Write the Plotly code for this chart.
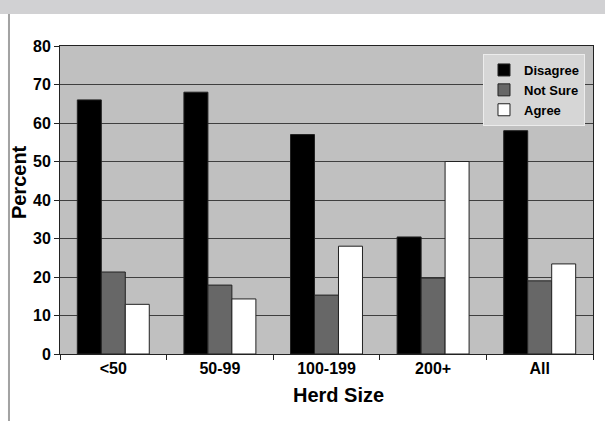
import plotly.graph_objects as go

# Survey responses by herd size (percent)
herd_sizes = ["<50", "50-99", "100-199", "200+", "All"]
disagree = [66, 68, 57, 30.4, 58]
not_sure = [21.3, 17.9, 15.3, 19.7, 19]
agree = [12.9, 14.3, 28, 50, 23.4]

series = [
    ("Disagree", disagree, "#000000"),
    ("Not Sure", not_sure, "#676767"),
    ("Agree", agree, "#ffffff"),
]

FONT = "Liberation Sans, Arial, Helvetica, sans-serif"

fig = go.Figure()
for name, vals, color in series:
    fig.add_trace(go.Bar(
        name=name, x=herd_sizes, y=vals,
        marker=dict(color=color, line=dict(color="#222222", width=1)),
    ))

# page furniture: grey header band and left rule
fig.add_shape(type="rect", xref="paper", yref="paper",
              x0=-0.2, x1=1.1, y0=1.1039, y1=1.16,
              fillcolor="#d1d1d3", line_width=0, layer="below")
fig.add_shape(type="rect", xref="paper", yref="paper",
              x0=-0.0976, x1=-0.0938, y0=-0.23, y1=1.1039,
              fillcolor="#a3a3a3", line_width=0, layer="below")

# axis titles
fig.add_annotation(text="Percent", xref="paper", yref="paper",
                   x=-0.077, y=0.558, textangle=-90, showarrow=False,
                   xanchor="center", yanchor="middle",
                   font=dict(family=FONT, size=20, weight="bold"))
fig.add_annotation(text="Herd Size", xref="paper", yref="paper",
                   x=0.5216, y=-0.133, showarrow=False,
                   xanchor="center", yanchor="middle",
                   font=dict(family=FONT, size=20, weight="bold"))

fig.update_layout(
    width=605, height=421,
    margin=dict(l=60, r=12, t=46, b=67),
    paper_bgcolor="#ffffff",
    plot_bgcolor="#c0c0c0",
    barmode="group",
    bargap=0.325,
    bargroupgap=0,
    font=dict(family=FONT, size=16, color="#000000", weight="bold"),
    showlegend=True,
    legend=dict(
        x=0.7936, y=0.974, xanchor="left", yanchor="top",
        bgcolor="#d6d6d6", bordercolor="#ececec", borderwidth=1,
        font=dict(family=FONT, size=13, color="#000000", weight="bold"),
        tracegroupgap=0, itemwidth=30,
    ),
    xaxis=dict(
        showgrid=False, showline=True, linecolor="#222222", linewidth=1,
        mirror=True, ticks="outside", tickson="boundaries", ticklen=5,
        tickcolor="#222222",
        tickfont=dict(family=FONT, size=16, weight="bold"),
    ),
    yaxis=dict(
        range=[0, 80], dtick=10, showgrid=True, gridcolor="#3f3f3f",
        gridwidth=1, showline=True, linecolor="#222222", linewidth=1,
        mirror=True, ticks="outside", ticklen=5, tickcolor="#222222",
        zeroline=False,
        tickfont=dict(family=FONT, size=16, weight="bold"),
    ),
)

fig.write_html("out.html")
